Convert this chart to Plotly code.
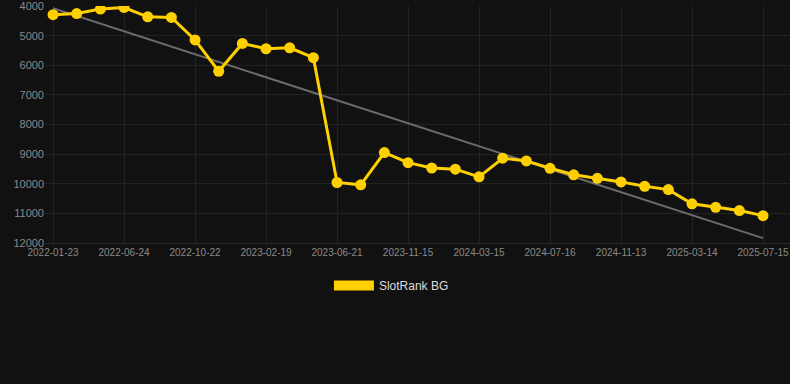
import numpy as np
import plotly.graph_objects as go

dates = [
    "2022-01-23", "2022-03-05", "2022-04-14", "2022-06-24", "2022-08-03", "2022-09-12",
    "2022-10-22", "2022-12-01", "2023-01-10", "2023-02-19", "2023-03-31", "2023-05-10",
    "2023-06-21", "2023-08-08", "2023-09-27", "2023-11-15", "2023-12-25", "2024-02-03",
    "2024-03-15", "2024-04-25", "2024-06-05", "2024-07-16", "2024-08-25", "2024-10-04",
    "2024-11-13", "2024-12-23", "2025-02-01", "2025-03-14", "2025-04-23", "2025-06-02",
    "2025-07-15",
]
ranks = [
    4290, 4250, 4100, 4045, 4360, 4380, 5140, 6200, 5260, 5440, 5410, 5740,
    9960, 10040, 8950, 9290, 9470, 9510, 9770, 9140, 9230, 9480, 9700, 9820,
    9940, 10090, 10200, 10680, 10800, 10910, 11080,
]
tick_labels = dates[::3]
y_ticks = [4000, 5000, 6000, 7000, 8000, 9000, 10000, 11000, 12000]
y_tick_labels = [str(v) for v in y_ticks]
series_name = "SlotRank BG"

idx = np.arange(len(dates))
slope, intercept = np.polyfit(idx, ranks, 1)
trend = slope * idx + intercept

YELLOW = "#FFD000"
fig = go.Figure()
fig.add_trace(go.Scatter(
    x=idx, y=trend, mode="lines", line=dict(color="#6b6b6b", width=2),
    showlegend=False, hoverinfo="skip",
))
fig.add_trace(go.Scatter(
    x=idx, y=ranks, mode="lines+markers", name=series_name,
    line=dict(color=YELLOW, width=3), marker=dict(color=YELLOW, size=11),
    showlegend=False, customdata=dates,
))
fig.add_trace(go.Scatter(
    x=[None], y=[None], mode="lines", name=series_name,
    line=dict(color=YELLOW, width=12), showlegend=True,
))

fig.update_layout(
    width=790, height=384,
    paper_bgcolor="#111111", plot_bgcolor="#111111",
    margin=dict(l=45, r=0, t=6, b=141),
    font=dict(family="Liberation Sans, Arial, sans-serif", color="#8a8a8a"),
    legend=dict(orientation="h", x=0.465, xanchor="center", y=-0.118, yanchor="top",
                font=dict(size=12, color="#dddddd"), itemwidth=40),
    xaxis=dict(
        range=[-0.34, 31.14], tickmode="array", tickvals=idx[::3], ticktext=tick_labels,
        showgrid=True, gridcolor="#222222", zeroline=False, showline=True,
        linecolor="#2a2a2a", tickfont=dict(size=10, color="#8a8a8a"), ticks="",
    ),
    yaxis=dict(
        range=[12005, 3995], tickmode="array", tickvals=y_ticks, ticktext=y_tick_labels,
        showgrid=True, gridcolor="#222222", zeroline=False, ticklabeloverflow="allow",
        tickfont=dict(size=11, color="#8a8a8a"),
    ),
)
fig.write_html(
    "out.html",
    config={"displayModeBar": False},
    post_script="document.body.style.margin='0';document.body.style.background='#111111';",
)
